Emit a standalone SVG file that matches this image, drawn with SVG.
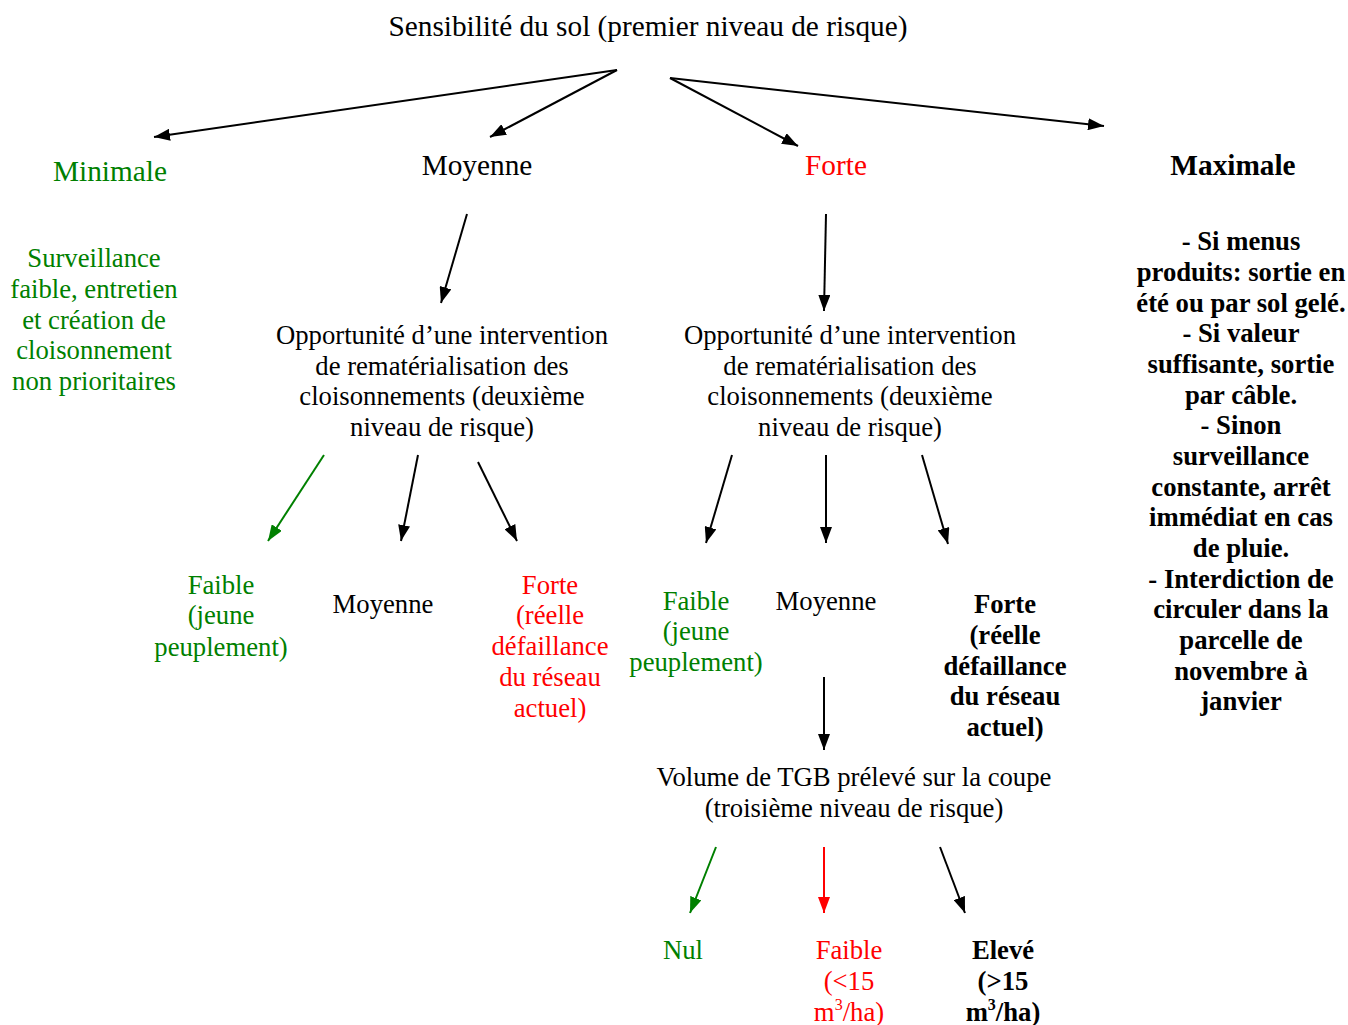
<svg xmlns="http://www.w3.org/2000/svg" width="1348" height="1025" viewBox="0 0 1348 1025">
<defs>
<marker id="ak" viewBox="0 0 16 12" refX="16" refY="6" markerWidth="16" markerHeight="12" markerUnits="userSpaceOnUse" orient="auto"><path d="M0,0 L16,6 L0,12 z" fill="#000"/></marker>
<marker id="ag" viewBox="0 0 16 12" refX="16" refY="6" markerWidth="16" markerHeight="12" markerUnits="userSpaceOnUse" orient="auto"><path d="M0,0 L16,6 L0,12 z" fill="#008000"/></marker>
<marker id="ar" viewBox="0 0 16 12" refX="16" refY="6" markerWidth="16" markerHeight="12" markerUnits="userSpaceOnUse" orient="auto"><path d="M0,0 L16,6 L0,12 z" fill="#ff0000"/></marker>
</defs>
<style>
text{font-family:"Liberation Serif","Times New Roman",serif;font-size:26.7px;text-anchor:middle;fill:#000}
.h{font-size:29.3px}
.g{fill:#008000}
.r{fill:#ff0000}
.b{font-weight:bold}
.k{stroke:#000;stroke-width:2;fill:none;marker-end:url(#ak)}
.kg{stroke:#008000;stroke-width:2;fill:none;marker-end:url(#ag)}
.kr{stroke:#ff0000;stroke-width:2;fill:none;marker-end:url(#ar)}
</style>
<rect width="1348" height="1025" fill="#fff"/>
<g id="connectors">
<line class="k" x1="617" y1="70" x2="154" y2="137"/>
<line class="k" x1="617" y1="70" x2="490" y2="137"/>
<line class="k" x1="670" y1="78" x2="798" y2="146"/>
<line class="k" x1="670" y1="78" x2="1104" y2="126"/>
<line class="k" x1="467" y1="214" x2="441" y2="303"/>
<line class="k" x1="826" y1="214" x2="824" y2="311"/>
<line class="kg" x1="324" y1="455" x2="268" y2="541"/>
<line class="k" x1="418" y1="455" x2="401" y2="541"/>
<line class="k" x1="478" y1="462" x2="517" y2="541"/>
<line class="k" x1="732" y1="455" x2="706" y2="543"/>
<line class="k" x1="826" y1="455" x2="826" y2="543"/>
<line class="k" x1="922" y1="455" x2="948" y2="544"/>
<line class="k" x1="824" y1="677" x2="824" y2="750"/>
<line class="kg" x1="716" y1="847" x2="690" y2="913"/>
<line class="kr" x1="824" y1="847" x2="824" y2="913"/>
<line class="k" x1="940" y1="847" x2="965" y2="913"/>
</g>
<g id="labels" transform="translate(0,1)">
<g id="root"><text class="h" x="648" y="35">Sensibilité du sol (premier niveau de risque)</text></g>
<g id="minimale"><text class="h g" x="110" y="180">Minimale</text></g>
<g id="minimale-note">
<text class="g" x="94" y="266">Surveillance</text>
<text class="g" x="94" y="297">faible, entretien</text>
<text class="g" x="94" y="328">et création de</text>
<text class="g" x="94" y="358">cloisonnement</text>
<text class="g" x="94" y="389">non prioritaires</text>
</g>
<g id="moyenne"><text class="h" x="477" y="174">Moyenne</text></g>
<g id="forte"><text class="h r" x="836" y="174">Forte</text></g>
<g id="maximale"><text class="h b" x="1233" y="174">Maximale</text></g>
<g id="maximale-note">
<text class="b" x="1241" y="249">- Si menus</text>
<text class="b" x="1241" y="280">produits: sortie en</text>
<text class="b" x="1241" y="311">été ou par sol gelé.</text>
<text class="b" x="1241" y="341">- Si valeur</text>
<text class="b" x="1241" y="372">suffisante, sortie</text>
<text class="b" x="1241" y="403">par câble.</text>
<text class="b" x="1241" y="433">- Sinon</text>
<text class="b" x="1241" y="464">surveillance</text>
<text class="b" x="1241" y="495">constante, arrêt</text>
<text class="b" x="1241" y="525">immédiat en cas</text>
<text class="b" x="1241" y="556">de pluie.</text>
<text class="b" x="1241" y="587">- Interdiction de</text>
<text class="b" x="1241" y="617">circuler dans la</text>
<text class="b" x="1241" y="648">parcelle de</text>
<text class="b" x="1241" y="679">novembre à</text>
<text class="b" x="1241" y="709">janvier</text>
</g>
<g id="opp-left">
<text x="442" y="343">Opportunité d’une intervention</text>
<text x="442" y="374">de rematérialisation des</text>
<text x="442" y="404">cloisonnements (deuxième</text>
<text x="442" y="435">niveau de risque)</text>
</g>
<g id="opp-right">
<text x="850" y="343">Opportunité d’une intervention</text>
<text x="850" y="374">de rematérialisation des</text>
<text x="850" y="404">cloisonnements (deuxième</text>
<text x="850" y="435">niveau de risque)</text>
</g>
<g id="l-faible">
<text class="g" x="221" y="593">Faible</text>
<text class="g" x="221" y="623">(jeune</text>
<text class="g" x="221" y="655">peuplement)</text>
</g>
<g id="l-moyenne"><text x="383" y="612">Moyenne</text></g>
<g id="l-forte">
<text class="r" x="550" y="593">Forte</text>
<text class="r" x="550" y="623">(réelle</text>
<text class="r" x="550" y="654">défaillance</text>
<text class="r" x="550" y="685">du réseau</text>
<text class="r" x="550" y="716">actuel)</text>
</g>
<g id="r-faible">
<text class="g" x="696" y="609">Faible</text>
<text class="g" x="696" y="639">(jeune</text>
<text class="g" x="696" y="670">peuplement)</text>
</g>
<g id="r-moyenne"><text x="826" y="609">Moyenne</text></g>
<g id="r-forte">
<text class="b" x="1005" y="612">Forte</text>
<text class="b" x="1005" y="643">(réelle</text>
<text class="b" x="1005" y="674">défaillance</text>
<text class="b" x="1005" y="704">du réseau</text>
<text class="b" x="1005" y="735">actuel)</text>
</g>
<g id="volume">
<text x="854" y="785">Volume de TGB prélevé sur la coupe</text>
<text x="854" y="816">(troisième niveau de risque)</text>
</g>
<g id="nul"><text class="g" x="683" y="958">Nul</text></g>
<g id="v-faible">
<text class="r" x="849" y="958">Faible</text>
<text class="r" x="849" y="989">(&lt;15</text>
<text class="r" x="849" y="1020">m<tspan font-size="16" dy="-11">3</tspan><tspan dy="11">/ha)</tspan></text>
</g>
<g id="v-eleve">
<text class="b" x="1003" y="958">Elevé</text>
<text class="b" x="1003" y="989">(&gt;15</text>
<text class="b" x="1003" y="1020">m<tspan font-size="16" dy="-11">3</tspan><tspan dy="11">/ha)</tspan></text>
</g>
</g>
</svg>
